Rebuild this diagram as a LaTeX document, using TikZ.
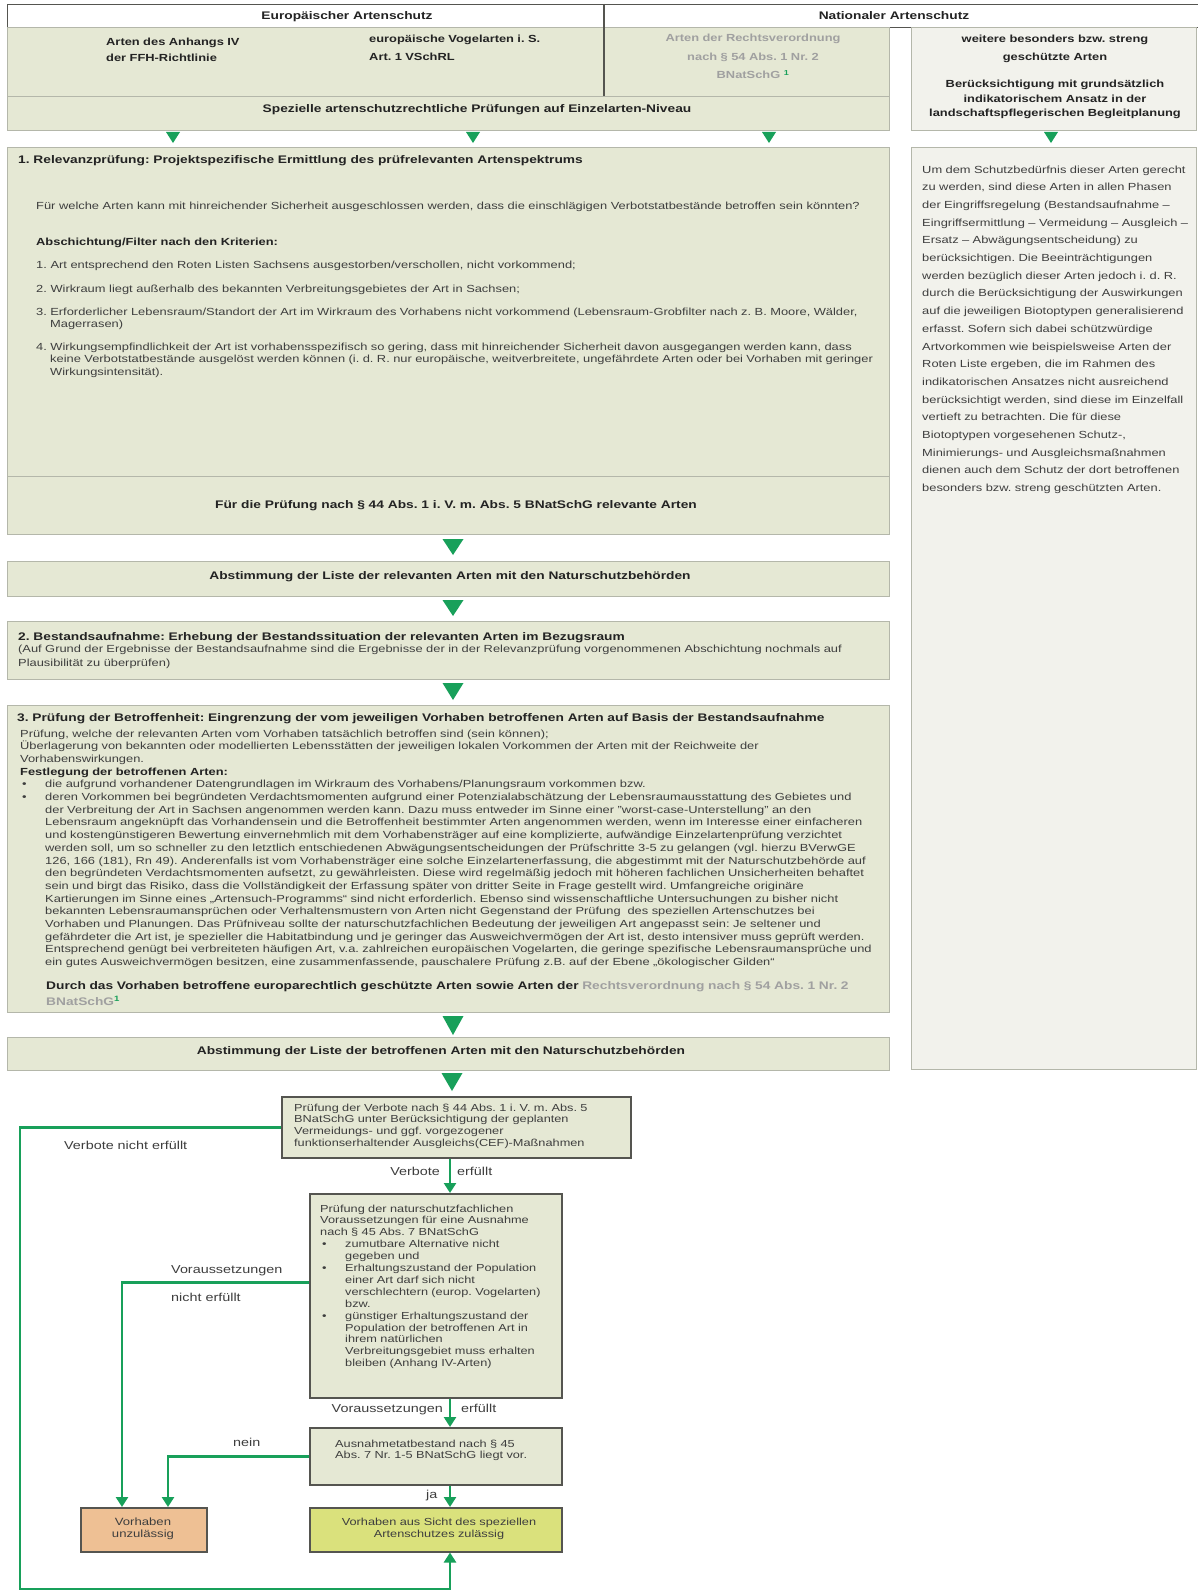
\documentclass[tikz,border=0pt]{standalone}
\usepackage{fontspec}
\setmainfont{Liberation Sans}[FakeStretch=1.25]
\usetikzlibrary{calc,arrows.meta}

\definecolor{panelfill}{RGB}{229,232,212}
\definecolor{notefill}{RGB}{242,242,236}
\definecolor{paneledge}{RGB}{180,183,170}
\definecolor{darkedge}{RGB}{85,85,80}
\definecolor{arrowgreen}{RGB}{24,160,90}
\definecolor{bodytext}{RGB}{62,62,62}
\definecolor{titletext}{RGB}{35,35,35}
\definecolor{lawtext}{RGB}{160,160,160}
\definecolor{nogofill}{RGB}{238,192,148}
\definecolor{okayfill}{RGB}{218,225,124}

\newcommand{\fnone}{\textsuperscript{\textcolor{arrowgreen}{\bfseries 1}}}
\newcommand{\bul}{\makebox[25pt][l]{\hspace{2pt}\textbullet}}
\newcommand{\ind}{\hspace*{25pt}}

\begin{document}
\frenchspacing
\begin{tikzpicture}[x=1pt,y=-1pt]
    \tikzstyle{every node}=[inner sep=0pt, text=bodytext, font=\fontsize{10.3}{12.7}\selectfont]
    \tikzstyle{panel}=[draw=paneledge, fill=panelfill, line width=0.8pt, anchor=north west]
    \tikzstyle{note}=[panel, fill=notefill]
    \tikzstyle{flowbox}=[draw=darkedge, fill=panelfill, line width=1.5pt, anchor=north west]
    \tikzstyle{title}=[text=titletext, font=\fontsize{11}{13}\selectfont\bfseries]
    \tikzstyle{label}=[text=bodytext, font=\fontsize{11.5}{14}\selectfont]
    \tikzstyle{flow}=[draw=arrowgreen, line width=2.8pt, -{Triangle[width=12pt,length=10pt]}]
    \tikzstyle{tri}=[fill=arrowgreen]
    \useasboundingbox (0,0) rectangle (1198,1592);
    \fill[white] (0,0) rectangle (1198,1592);

    % header and species groups
    \node[panel, draw=darkedge, fill=white, minimum width=1195pt, minimum height=23pt] (header) at (7,4) {};
    \node[panel, minimum width=882pt, minimum height=69pt] (groups) at (7,27) {};
    \node[panel, minimum width=882pt, minimum height=34pt] (special) at (7,96) {};
    \node[note, minimum width=285pt, minimum height=103pt] (further) at (911,27) {};
    \draw[darkedge, line width=1.2pt] (604,4) -- (604,96);
    \node[title, anchor=base] (eurolabel) at (347,20) {Europäischer Artenschutz};
    \node[title, anchor=base] (natlabel) at (894,20) {Nationaler Artenschutz};
    \node[title, font=\fontsize{10.3}{16}\selectfont\bfseries, anchor=base west, align=left, text width=220pt] (annex) at (106,46) {Arten des Anhangs IV\\der FFH-Richtlinie};
    \node[title, font=\fontsize{10.3}{18}\selectfont\bfseries, anchor=base west, align=left, text width=220pt] (birds) at (369,43) {europäische Vogelarten i. S.\\Art. 1 VSchRL};
    \node[title, font=\fontsize{10.3}{18.5}\selectfont\bfseries, text=lawtext, anchor=base, align=center, text width=260pt] (ordinance) at (753,42) {Arten der Rechtsverordnung\\nach § 54 Abs. 1 Nr. 2\\BNatSchG \fnone};
    \node[title, anchor=base] (speciallabel) at (477,113) {Spezielle artenschutzrechtliche Prüfungen auf Einzelarten-Niveau};
    \node[title, font=\fontsize{10.3}{18}\selectfont\bfseries, anchor=base, align=center, text width=280pt] (furtherlabel) at (1055,43) {weitere besonders bzw. streng\\geschützte Arten};
    \node[title, font=\fontsize{10.3}{14.5}\selectfont\bfseries, anchor=base, align=center, text width=285pt] (indicator) at (1055,88) {Berücksichtigung mit grundsätzlich\\indikatorischem Ansatz in der\\landschaftspflegerischen Begleitplanung};

    % green triangles
    \fill[tri] (166,132) -- (180,132) -- (173,143) -- cycle;
    \fill[tri] (466,132) -- (480,132) -- (473,143) -- cycle;
    \fill[tri] (762,132) -- (776,132) -- (769,143) -- cycle;
    \fill[tri] (1044,132) -- (1058,132) -- (1051,143) -- cycle;

    % step 1
    \node[panel, minimum width=882pt, minimum height=329pt] (relevance) at (7,147) {};
    \node[panel, minimum width=882pt, minimum height=58pt] (relevant) at (7,476) {};
    \node[note, minimum width=285pt, minimum height=922pt] (remark) at (911,147) {};
    \node[title, anchor=base west] (relhead) at (18,163) {1. Relevanzprüfung: Projektspezifische Ermittlung des prüfrelevanten Artenspektrums};
    \node[anchor=base west] (question) at (36,209) {Für welche Arten kann mit hinreichender Sicherheit ausgeschlossen werden, dass die einschlägigen Verbotstatbestände betroffen sein könnten?};
    \node[title, font=\fontsize{10.3}{13}\selectfont\bfseries, anchor=base west] (filterhead) at (36,245) {Abschichtung/Filter nach den Kriterien:};
    \node[anchor=base west] (crit1) at (36,268) {1. Art entsprechend den Roten Listen Sachsens ausgestorben/verschollen, nicht vorkommend;};
    \node[anchor=base west] (crit2) at (36,292) {2. Wirkraum liegt außerhalb des bekannten Verbreitungsgebietes der Art in Sachsen;};
    \node[anchor=base west, align=left, text width=850pt] (crit3) at (36,315) {3. Erforderlicher Lebensraum/Standort der Art im Wirkraum des Vorhabens nicht vorkommend (Lebensraum-Grobfilter nach z. B. Moore, Wälder,\\\hspace*{14pt}Magerrasen)};
    \node[anchor=base west, align=left, text width=850pt] (crit4) at (36,350) {4. Wirkungsempfindlichkeit der Art ist vorhabensspezifisch so gering, dass mit hinreichender Sicherheit davon ausgegangen werden kann, dass\\\hspace*{14pt}keine Verbotstatbestände ausgelöst werden können (i. d. R. nur europäische, weitverbreitete, ungefährdete Arten oder bei Vorhaben mit geringer\\\hspace*{14pt}Wirkungsintensität).};
    \node[title, anchor=base] (relevantlabel) at (456,508) {Für die Prüfung nach § 44 Abs. 1 i. V. m. Abs. 5 BNatSchG relevante Arten};
    \node[anchor=base west, align=left, text width=285pt, font=\fontsize{10.3}{17.7}\selectfont] (remarktext) at (922,173) {Um dem Schutzbedürfnis dieser Arten gerecht\\zu werden, sind diese Arten in allen Phasen\\der Eingriffsregelung (Bestandsaufnahme –\\Eingriffsermittlung – Vermeidung – Ausgleich –\\Ersatz – Abwägungsentscheidung) zu\\berücksichtigen. Die Beeinträchtigungen\\werden bezüglich dieser Arten jedoch i. d. R.\\durch die Berücksichtigung der Auswirkungen\\auf die jeweiligen Biotoptypen generalisierend\\erfasst. Sofern sich dabei schützwürdige\\Artvorkommen wie beispielsweise Arten der\\Roten Liste ergeben, die im Rahmen des\\indikatorischen Ansatzes nicht ausreichend\\berücksichtigt werden, sind diese im Einzelfall\\vertieft zu betrachten. Die für diese\\Biotoptypen vorgesehenen Schutz-,\\Minimierungs- und Ausgleichsmaßnahmen\\dienen auch dem Schutz der dort betroffenen\\besonders bzw. streng geschützten Arten.};

    \fill[tri] (442.5,539) -- (463.5,539) -- (453,555) -- cycle;

    % agreement 1
    \node[panel, minimum width=882pt, minimum height=35pt] (agree1) at (7,561) {};
    \node[title, anchor=base] (agree1label) at (450,579) {Abstimmung der Liste der relevanten Arten mit den Naturschutzbehörden};

    \fill[tri] (442.5,600) -- (463.5,600) -- (453,616) -- cycle;

    % step 2
    \node[panel, minimum width=882pt, minimum height=58pt] (survey) at (7,621) {};
    \node[title, anchor=base west] (surveyhead) at (18,640) {2. Bestandsaufnahme: Erhebung der Bestandssituation der relevanten Arten im Bezugsraum};
    \node[anchor=base west, align=left, text width=860pt, font=\fontsize{10.3}{14}\selectfont] (surveytext) at (18,652) {(Auf Grund der Ergebnisse der Bestandsaufnahme sind die Ergebnisse der in der Relevanzprüfung vorgenommenen Abschichtung nochmals auf\\Plausibilität zu überprüfen)};

    \fill[tri] (442.5,683) -- (463.5,683) -- (453,700) -- cycle;

    % step 3
    \node[panel, minimum width=882pt, minimum height=307pt] (affected) at (7,705) {};
    \node[title, anchor=base west] (affectedhead) at (17,721) {3. Prüfung der Betroffenheit: Eingrenzung der vom jeweiligen Vorhaben betroffenen Arten auf Basis der Bestandsaufnahme};
    \node[anchor=base west, align=left, text width=880pt] (affectedtext) at (20,737) {Prüfung, welche der relevanten Arten vom Vorhaben tatsächlich betroffen sind (sein können);\\
Überlagerung von bekannten oder modellierten Lebensstätten der jeweiligen lokalen Vorkommen der Arten mit der Reichweite der\\
Vorhabenswirkungen.\\
\textbf{\textcolor{titletext}{Festlegung der betroffenen Arten:}}\\
\bul die aufgrund vorhandener Datengrundlagen im Wirkraum des Vorhabens/Planungsraum vorkommen bzw.\\
\bul deren Vorkommen bei begründeten Verdachtsmomenten aufgrund einer Potenzialabschätzung der Lebensraumausstattung des Gebietes und\\
\ind der Verbreitung der Art in Sachsen angenommen werden kann. Dazu muss entweder im Sinne einer "worst-case-Unterstellung" an den\\
\ind Lebensraum angeknüpft das Vorhandensein und die Betroffenheit bestimmter Arten angenommen werden, wenn im Interesse einer einfacheren\\
\ind und kostengünstigeren Bewertung einvernehmlich mit dem Vorhabensträger auf eine komplizierte, aufwändige Einzelartenprüfung verzichtet\\
\ind werden soll, um so schneller zu den letztlich entschiedenen Abwägungsentscheidungen der Prüfschritte 3-5 zu gelangen (vgl. hierzu BVerwGE\\
\ind 126, 166 (181), Rn 49). Anderenfalls ist vom Vorhabensträger eine solche Einzelartenerfassung, die abgestimmt mit der Naturschutzbehörde auf\\
\ind den begründeten Verdachtsmomenten aufsetzt, zu gewährleisten. Diese wird regelmäßig jedoch mit höheren fachlichen Unsicherheiten behaftet\\
\ind sein und birgt das Risiko, dass die Vollständigkeit der Erfassung später von dritter Seite in Frage gestellt wird. Umfangreiche originäre\\
\ind Kartierungen im Sinne eines „Artensuch-Programms“ sind nicht erforderlich. Ebenso sind wissenschaftliche Untersuchungen zu bisher nicht\\
\ind bekannten Lebensraumansprüchen oder Verhaltensmustern von Arten nicht Gegenstand der Prüfung\ \ des speziellen Artenschutzes bei\\
\ind Vorhaben und Planungen. Das Prüfniveau sollte der naturschutzfachlichen Bedeutung der jeweiligen Art angepasst sein: Je seltener und\\
\ind gefährdeter die Art ist, je spezieller die Habitatbindung und je geringer das Ausweichvermögen der Art ist, desto intensiver muss geprüft werden.\\
\ind Entsprechend genügt bei verbreiteten häufigen Art, v.a. zahlreichen europäischen Vogelarten, die geringe spezifische Lebensraumansprüche und\\
\ind ein gutes Ausweichvermögen besitzen, eine zusammenfassende, pauschalere Prüfung z.B. auf der Ebene „ökologischer Gilden“};
    \node[title, font=\fontsize{11}{16}\selectfont\bfseries, anchor=base west, align=left, text width=860pt] (affectedresult) at (46,989) {Durch das Vorhaben betroffene europarechtlich geschützte Arten sowie Arten der \textcolor{lawtext}{Rechtsverordnung nach § 54 Abs. 1 Nr. 2}\\\textcolor{lawtext}{BNatSchG}\fnone};

    \fill[tri] (442.5,1016) -- (463.5,1016) -- (453,1035) -- cycle;

    % agreement 2
    \node[panel, minimum width=882pt, minimum height=33pt] (agree2) at (7,1037) {};
    \node[title, anchor=base] (agree2label) at (441,1054) {Abstimmung der Liste der betroffenen Arten mit den Naturschutzbehörden};

    \fill[tri] (441.5,1073) -- (462.5,1073) -- (452,1091) -- cycle;

    % decision chart
    \node[flowbox, minimum width=349pt, minimum height=61pt] (bans) at (281,1096) {};
    \node[flowbox, minimum width=252pt, minimum height=204pt] (terms) at (309,1193) {};
    \node[flowbox, minimum width=252pt, minimum height=57pt] (exception) at (309,1427) {};
    \node[flowbox, fill=nogofill, minimum width=126pt, minimum height=44pt] (nogo) at (80,1507) {};
    \node[flowbox, fill=okayfill, minimum width=252pt, minimum height=44pt] (okay) at (309,1507) {};
    \node[anchor=base west, align=left, text width=340pt, font=\fontsize{10.2}{11.9}\selectfont] (banstext) at (294,1111) {Prüfung der Verbote nach § 44 Abs. 1 i. V. m. Abs. 5\\BNatSchG unter Berücksichtigung der geplanten\\Vermeidungs- und ggf. vorgezogener\\funktionserhaltender Ausgleichs(CEF)-Maßnahmen};
    \node[anchor=base west, align=left, text width=250pt, font=\fontsize{10.2}{11.9}\selectfont] (termstext) at (320,1212) {Prüfung der naturschutzfachlichen\\Voraussetzungen für eine Ausnahme\\nach § 45 Abs. 7 BNatSchG\\
\bul zumutbare Alternative nicht\\\ind gegeben und\\
\bul Erhaltungszustand der Population\\\ind einer Art darf sich nicht\\\ind verschlechtern (europ. Vogelarten)\\\ind bzw.\\
\bul günstiger Erhaltungszustand der\\\ind Population der betroffenen Art in\\\ind ihrem natürlichen\\\ind Verbreitungsgebiet muss erhalten\\\ind bleiben (Anhang IV-Arten)};
    \node[anchor=base west, align=left, text width=240pt, font=\fontsize{10.2}{11.9}\selectfont] (exceptiontext) at (335,1447) {Ausnahmetatbestand nach § 45\\Abs. 7 Nr. 1-5 BNatSchG liegt vor.};
    \node[anchor=base, align=center, text width=120pt, font=\fontsize{10.5}{12}\selectfont] (nogotext) at (143,1525) {Vorhaben\\unzulässig};
    \node[anchor=base, align=center, text width=250pt, font=\fontsize{10.2}{12}\selectfont] (okaytext) at (439,1525) {Vorhaben aus Sicht des speziellen\\Artenschutzes zulässig};

    % connectors
    \coordinate (spine) at (450,0);
    \coordinate (leftrail) at (20,1589);
    \coordinate (drop1) at (122,0);
    \coordinate (drop2) at (168,0);
    \draw[flow] (bans.south -| spine) -- (terms.north -| spine);
    \draw[flow] (terms.south -| spine) -- (exception.north -| spine);
    \draw[flow] (exception.south -| spine) -- (okay.north -| spine);
    \draw[flow] (bans.west) -| (leftrail) -| (okay.south -| spine);
    \draw[flow] ($(terms.west)+(0,-13)$) -| (nogo.north -| drop1);
    \draw[flow] (exception.west) -| (nogo.north -| drop2);

    % labels
    \node[label, anchor=base west] (nobans) at (64,1149) {Verbote nicht erfüllt};
    \node[label, anchor=base east] (bansyes1) at (440,1175) {Verbote};
    \node[label, anchor=base west] (bansyes2) at (457,1175) {erfüllt};
    \node[label, anchor=base west] (noterms1) at (171,1273) {Voraussetzungen};
    \node[label, anchor=base west] (noterms2) at (171,1301) {nicht erfüllt};
    \node[label, anchor=base east] (termsyes1) at (443,1412) {Voraussetzungen};
    \node[label, anchor=base west] (termsyes2) at (461,1412) {erfüllt};
    \node[label, anchor=base west] (no) at (233,1446) {nein};
    \node[label, anchor=base west] (yes) at (426,1498) {ja};
\end{tikzpicture}
\end{document}
